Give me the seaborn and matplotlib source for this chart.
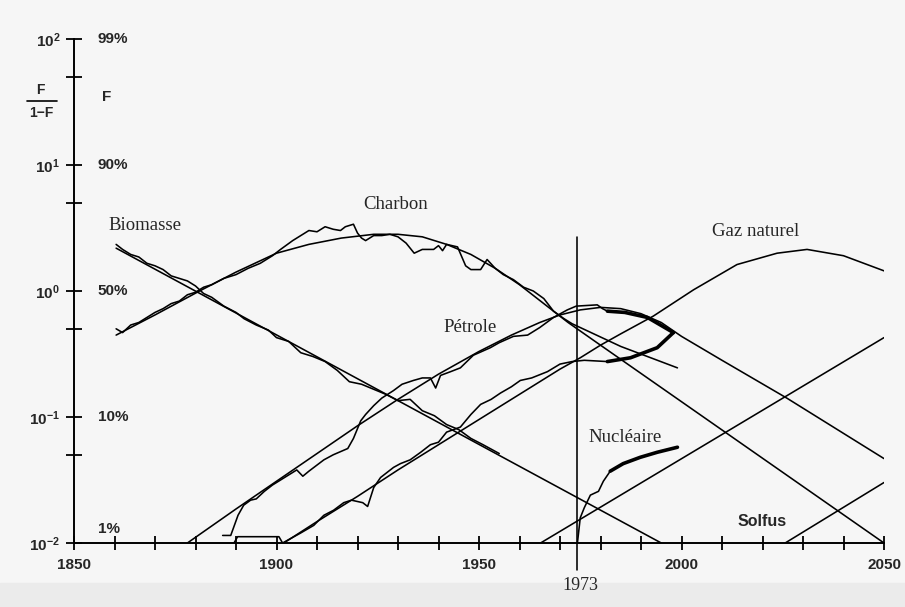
import numpy as np
import seaborn as sns
import matplotlib
matplotlib.use("Agg")
import matplotlib.pyplot as plt
from matplotlib.lines import Line2D
from matplotlib.patches import Rectangle
from matplotlib.ticker import FixedLocator, NullFormatter

# values are log10(F/(1-F))
wood_fit_yr = [1860.4, 1995]
wood_fit = [0.34, -2.0]
wood_yr = [1860.4, 1862, 1864, 1866, 1868, 1870, 1872, 1874, 1876, 1878, 1880, 1882, 1884,
           1887, 1890, 1892, 1895, 1898, 1900, 1903, 1906, 1909, 1912, 1915, 1918, 1921,
           1924, 1927, 1930, 1933, 1936, 1939, 1942, 1945, 1948, 1951, 1955]
wood = [0.37, 0.33, 0.29, 0.27, 0.22, 0.20, 0.17, 0.12, 0.10, 0.08, 0.04, -0.02, -0.05,
        -0.12, -0.17, -0.22, -0.27, -0.31, -0.37, -0.40, -0.49, -0.52, -0.56, -0.63, -0.72, -0.74,
        -0.78, -0.82, -0.87, -0.86, -0.95, -0.99, -1.06, -1.10, -1.17, -1.22, -1.29]

coal_fit_yr = [1860.4, 1870, 1881, 1890, 1900, 1908, 1916, 1924, 1930, 1936, 1942, 1948,
               1954, 1960, 1966, 1972, 1980, 2050]
coal_fit = [-0.35, -0.19, 0.0, 0.15, 0.30, 0.37, 0.42, 0.45, 0.45, 0.43, 0.37, 0.29,
            0.18, 0.05, -0.10, -0.25, -0.43, -2.0]
coal_yr = [1860.4, 1862, 1864, 1866, 1868, 1870, 1872, 1874, 1876, 1878, 1880, 1882, 1884,
           1887, 1890, 1893, 1896, 1899, 1901, 1904, 1906, 1908, 1910, 1912, 1914, 1915.8,
           1917, 1919, 1920, 1921, 1922, 1924, 1926, 1928, 1930, 1932, 1934, 1936, 1938.8,
           1940, 1941, 1942, 1944.7, 1946.7, 1948, 1950.4, 1952, 1954, 1956, 1958.5, 1961,
           1963.4, 1966, 1968.4, 1971, 1973, 1985, 1999]
coal = [-0.30, -0.33, -0.27, -0.25, -0.21, -0.17, -0.14, -0.10, -0.08, -0.03, -0.01, 0.03, 0.05,
        0.10, 0.13, 0.18, 0.22, 0.28, 0.33, 0.40, 0.44, 0.48, 0.47, 0.51, 0.49, 0.48,
        0.51, 0.53, 0.46, 0.42, 0.40, 0.44, 0.44, 0.45, 0.43, 0.38, 0.30, 0.33, 0.33,
        0.36, 0.32, 0.37, 0.35, 0.20, 0.17, 0.17, 0.25, 0.18, 0.13, 0.09, 0.03,
        0.0, -0.06, -0.16, -0.22, -0.26, -0.44, -0.61]

oil_fit_yr = [1878, 1890, 1900, 1910, 1920, 1930, 1940, 1950, 1958, 1965, 1970, 1975, 1980,
              1985, 1990, 1995, 2000, 2010, 2026, 2050]
oil_fit = [-2.0, -1.73, -1.51, -1.29, -1.07, -0.86, -0.66, -0.48, -0.35, -0.25, -0.19, -0.15,
           -0.13, -0.14, -0.18, -0.25, -0.36, -0.55, -0.85, -1.33]
oil_yr = [1886.7, 1888.7, 1890.5, 1891.9, 1893.6, 1895, 1897, 1899, 1901, 1903, 1905, 1906.5,
          1908, 1911.7, 1914, 1917.6, 1919, 1920.8, 1922, 1924, 1926, 1928.9, 1931, 1933.8,
          1936, 1938, 1939.3, 1940.5, 1943, 1945.4, 1948.6, 1950, 1952.8, 1955, 1958.5, 1962,
          1965, 1968.4, 1971.8, 1974, 1979.2, 1980.5, 1981.7]
oil = [-1.94, -1.94, -1.78, -1.70, -1.66, -1.65, -1.59, -1.54, -1.50, -1.46, -1.42, -1.47,
       -1.43, -1.34, -1.30, -1.25, -1.17, -1.03, -0.98, -0.91, -0.85, -0.79, -0.74, -0.71,
       -0.69, -0.69, -0.77, -0.67, -0.64, -0.61, -0.51, -0.49, -0.45, -0.41, -0.36, -0.35,
       -0.29, -0.21, -0.15, -0.12, -0.11, -0.14, -0.16]
oil_new_yr = [1981.7, 1986, 1991.6, 1998]
oil_new = [-0.16, -0.17, -0.21, -0.33]

gas_fit_yr = [1901.8, 1910, 1920, 1930, 1940, 1950, 1960, 1970, 1975, 1980, 1985, 1993,
              2003, 2013.7, 2023.6, 2031, 2040, 2050]
gas_fit = [-2.0, -1.83, -1.63, -1.42, -1.22, -1.02, -0.82, -0.62, -0.53, -0.43, -0.34, -0.20,
           0.01, 0.21, 0.30, 0.33, 0.28, 0.16]
gas_yr = [1889.5, 1890.4, 1900.6, 1901.5, 1906, 1909.2, 1911.7, 1914.1, 1916.6, 1918.5,
          1921.3, 1922.5, 1924, 1925.7, 1928.9, 1930.6, 1933, 1935.6, 1938, 1940, 1942,
          1945.4, 1948, 1950.4, 1953, 1955.3, 1958, 1960.2, 1963, 1966.9, 1970, 1973, 1976,
          1981.7]
gas = [-2.0, -1.95, -1.95, -2.0, -1.92, -1.86, -1.78, -1.74, -1.68, -1.66,
       -1.68, -1.71, -1.56, -1.48, -1.40, -1.37, -1.34, -1.28, -1.22, -1.20, -1.12,
       -1.08, -0.98, -0.90, -0.86, -0.81, -0.76, -0.71, -0.69, -0.64, -0.58, -0.56, -0.55,
       -0.56]
gas_new_yr = [1981.7, 1987.4, 1994, 1998]
gas_new = [-0.56, -0.53, -0.45, -0.33]

nuc_fit_yr = [1965.2, 2050]
nuc_fit = [-2.0, -0.37]
nuc_yr = [1974.3, 1975, 1976, 1977.5, 1979.5, 1980.7, 1982.4]
nuc = [-2.0, -1.80, -1.72, -1.62, -1.59, -1.51, -1.43]
nuc_new_yr = [1982.4, 1985.6, 1989.8, 1994, 1999]
nuc_new = [-1.43, -1.37, -1.32, -1.28, -1.24]

solfus_fit_yr = [2025.6, 2050]
solfus_fit = [-2.0, -1.52]

left_labels = [r"$\mathbf{10^{-2}}$", r"$\mathbf{10^{-1}}$", r"$\mathbf{10^{0}}$",
               r"$\mathbf{10^{1}}$", r"$\mathbf{10^{2}}$"]
pct_labels = ["1%", "10%", "50%", "90%", "99%"]
year_ticks = [1850, 1900, 1950, 2000, 2050]
mark_year = "1973"

bg = "#f6f6f6"
sns.set_style("white", {"axes.facecolor": bg, "figure.facecolor": bg})
plt.rcParams["font.family"] = ["Liberation Sans", "DejaVu Sans"]
plt.rcParams["mathtext.fontset"] = "custom"
plt.rcParams["mathtext.bf"] = "Liberation Sans:bold"
plt.rcParams["mathtext.rm"] = "Liberation Sans"

W, H = 905, 607
fig = plt.figure(figsize=(W / 100, H / 100), dpi=100)
fig.patches.append(Rectangle((0, 0), 1, 24 / H, transform=fig.transFigure,
                             color="#ebebeb", zorder=-10))
ax = fig.add_axes([74 / W, (H - 543) / H, (884 - 74) / W, (543 - 39) / H])
ax.set_yscale("log")
ax.set_xlim(1850, 2050)
ax.set_ylim(1e-2, 1e2)


def trace(yr, vals, lw=1.15):
    sns.lineplot(x=yr, y=10 ** np.asarray(vals), ax=ax, color="black", lw=lw,
                 sort=False, estimator=None, legend=False)


for yr, v in [(wood_fit_yr, wood_fit), (wood_yr, wood),
              (coal_fit_yr, coal_fit), (coal_yr, coal),
              (oil_fit_yr, oil_fit), (oil_yr, oil),
              (gas_fit_yr, gas_fit), (gas_yr, gas),
              (nuc_fit_yr, nuc_fit), (nuc_yr, nuc),
              (solfus_fit_yr, solfus_fit)]:
    trace(yr, v)
for yr, v in [(oil_new_yr, oil_new), (gas_new_yr, gas_new), (nuc_new_yr, nuc_new)]:
    trace(yr, v, lw=2.6)

# the 1973 marker is drawn a little right of the tick in the original
ax.axvline(1974.2, ymin=-0.054, ymax=0.607, color="black", lw=1.15, clip_on=False)

for s in ["top", "right"]:
    ax.spines[s].set_visible(False)
for s in ["left", "bottom"]:
    ax.spines[s].set_linewidth(1.4)
    ax.spines[s].set_color("black")

ax.set_yticks([1e-2, 1e-1, 1e0, 1e1, 1e2], labels=left_labels)
ax.yaxis.set_minor_locator(FixedLocator([0.05, 0.5, 5, 50]))
ax.yaxis.set_minor_formatter(NullFormatter())
ax.tick_params(axis="y", which="both", left=True, direction="inout", length=12, width=1.3,
               color="black", labelsize=11, pad=4)
ax.set_xticks(year_ticks, labels=[str(y) for y in year_ticks])
ax.set_xticks(np.arange(1860, 2050, 10), minor=True)
ax.tick_params(axis="x", which="both", bottom=True, direction="inout", length=10, width=1.3,
               color="black", labelsize=11, pad=6)
for t in ax.get_xticklabels():
    t.set_fontweight("bold")

for v, lab in zip([1e-2, 1e-1, 1e0, 1e1, 1e2], pct_labels):
    dy = 10 if lab == "1%" else 0
    ax.annotate(lab, xy=(0, v), xycoords=("axes fraction", "data"), xytext=(17, dy),
                textcoords="offset points", ha="left", va="center",
                fontsize=11, fontweight="bold")

# F/(1-F) and F captions
fig.text(40 / W, 1 - 90 / H, "F", ha="center", va="center", fontsize=10, fontweight="bold")
fig.text(41 / W, 1 - 113 / H, "1\u2212F", ha="center", va="center", fontsize=10,
         fontweight="bold")
fig.add_artist(Line2D([27 / W, 57 / W], [1 - 101 / H, 1 - 101 / H], color="black", lw=1.2))
fig.text(107 / W, 1 - 97 / H, "F", ha="center", va="center", fontsize=11, fontweight="bold")

serif = ["Liberation Serif", "DejaVu Serif"]
for (x, y, s) in [(1929.4, 0.69, "Charbon"), (1867.5, 0.52, "Biomasse"),
                  (1947.9, -0.29, "Pétrole"), (2018.2, 0.47, "Gaz naturel"),
                  (1986.1, -1.16, "Nucléaire")]:
    ax.text(x, 10 ** y, s, ha="center", va="center", fontsize=13.5, family=serif)
ax.text(2019.9, 10 ** -1.83, "Solfus", ha="center", va="center", fontsize=11.5,
        fontweight="bold")
fig.text(580 / W, 1 - 585 / H, mark_year, ha="center", va="center", fontsize=13,
         family=serif)

fig.savefig("out.png", dpi=100, facecolor=bg)
